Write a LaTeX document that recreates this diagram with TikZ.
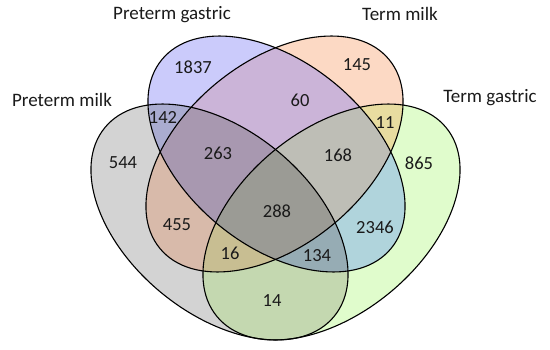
\documentclass[tikz,border=0pt]{standalone}
\usepackage{fontspec}
\setmainfont{Carlito}
\usepackage{xcolor}
\usepackage{tikz}
\usetikzlibrary{positioning}
% single sets
\definecolor{ptmilkgray}{HTML}{D3D3D3}
\definecolor{ptgastricblue}{HTML}{CBCBFB}
\definecolor{tmilkorange}{HTML}{FCD9C4}
\definecolor{tgastricgreen}{HTML}{E0FCCC}
% overlaps
\definecolor{pmpgcol}{HTML}{AAACD0}
\definecolor{pmtmcol}{HTML}{D8BAAA}
\definecolor{pmtgcol}{HTML}{C4D8B0}
\definecolor{pgtmcol}{HTML}{CBB4D8}
\definecolor{pgtgcol}{HTML}{B0D4DC}
\definecolor{tmtgcol}{HTML}{E8DCA0}
\definecolor{pmpgtmcol}{HTML}{A898B0}
\definecolor{pmpgtgcol}{HTML}{96ACB4}
\definecolor{pmtmtgcol}{HTML}{C8BE92}
\definecolor{pgtmtgcol}{HTML}{BEBEB6}
\definecolor{allcol}{HTML}{9B9B95}
\definecolor{ink}{HTML}{1A1A1A}
\newcommand{\ptmilkshape}{[rotate around={-39.5:(219.5,127)}] (219.5,127) ellipse [x radius=148.5, y radius=91.6]}
\newcommand{\ptgastricshape}{[rotate around={-39.5:(276.5,195)}] (276.5,195) ellipse [x radius=148.5, y radius=91.6]}
\newcommand{\tmilkshape}{[rotate around={39.5:(274.5,195)}] (274.5,195) ellipse [x radius=148.5, y radius=91.6]}
\newcommand{\tgastricshape}{[rotate around={39.5:(331.5,127)}] (331.5,127) ellipse [x radius=148.5, y radius=91.6]}
\tikzset{
  setoutline/.style={
    draw=black,
    line width=1.1pt
  },
  count/.style={
    font=\fontsize{18.5}{20}\selectfont,
    text=ink,
    inner sep=1pt
  },
  setname/.style={
    font=\fontsize{19}{21}\selectfont,
    text=ink,
    inner sep=1pt
  }
}

\begin{document}
\begin{tikzpicture}[x=1pt,y=1pt]
\useasboundingbox (0,0) rectangle (550,349);

% ---- Single sets ----
\fill[ptmilkgray] \ptmilkshape;
\fill[ptgastricblue] \ptgastricshape;
\fill[tmilkorange] \tmilkshape;
\fill[tgastricgreen] \tgastricshape;

% ---- Two-set overlaps ----
\begin{scope}
  \clip \ptmilkshape; \clip \ptgastricshape;
  \fill[pmpgcol] (0,0) rectangle (550,349);
\end{scope}
\begin{scope}
  \clip \ptmilkshape; \clip \tmilkshape;
  \fill[pmtmcol] (0,0) rectangle (550,349);
\end{scope}
\begin{scope}
  \clip \ptmilkshape; \clip \tgastricshape;
  \fill[pmtgcol] (0,0) rectangle (550,349);
\end{scope}
\begin{scope}
  \clip \ptgastricshape; \clip \tmilkshape;
  \fill[pgtmcol] (0,0) rectangle (550,349);
\end{scope}
\begin{scope}
  \clip \ptgastricshape; \clip \tgastricshape;
  \fill[pgtgcol] (0,0) rectangle (550,349);
\end{scope}
\begin{scope}
  \clip \tmilkshape; \clip \tgastricshape;
  \fill[tmtgcol] (0,0) rectangle (550,349);
\end{scope}

% ---- Three-set overlaps ----
\begin{scope}
  \clip \ptmilkshape; \clip \ptgastricshape; \clip \tmilkshape;
  \fill[pmpgtmcol] (0,0) rectangle (550,349);
\end{scope}
\begin{scope}
  \clip \ptmilkshape; \clip \ptgastricshape; \clip \tgastricshape;
  \fill[pmpgtgcol] (0,0) rectangle (550,349);
\end{scope}
\begin{scope}
  \clip \ptmilkshape; \clip \tmilkshape; \clip \tgastricshape;
  \fill[pmtmtgcol] (0,0) rectangle (550,349);
\end{scope}
\begin{scope}
  \clip \ptgastricshape; \clip \tmilkshape; \clip \tgastricshape;
  \fill[pgtmtgcol] (0,0) rectangle (550,349);
\end{scope}

% ---- All four ----
\begin{scope}
  \clip \ptmilkshape; \clip \ptgastricshape;
  \clip \tmilkshape; \clip \tgastricshape;
  \fill[allcol] (0,0) rectangle (550,349);
\end{scope}

% ---- Outlines ----
\draw[setoutline] \ptmilkshape;
\draw[setoutline] \ptgastricshape;
\draw[setoutline] \tmilkshape;
\draw[setoutline] \tgastricshape;

% ---- Set names ----
\node[setname] (ptgastricname) at (172,334) {Preterm gastric};
\node[setname] (ptmilkname) at (62,249) {Preterm milk};
\node[setname] (tmilkname) at (400,335) {Term milk};
\node[setname] (tgastricname) at (490,251) {Term gastric};

% ---- Region counts ----
\node[count] (onlyptgastric) at (193,282) {1837};
\node[count] (onlytmilk) at (357,284) {145};
\node[count] (onlyptmilk) at (123,186) {544};
\node[count] (onlytgastric) at (419,186) {865};
\node[count] (ptmilkptgastric) at (163,232) {142};
\node[count] (ptgastrictmilk) at (300,249) {60};
\node[count] (tmilktgastric) at (385,226) {11};
\node[count] (triplenotg) at (218,196) {263};
\node[count] (triplenopm) at (338,194) {168};
\node[count] (allfour) at (277,138) {288};
\node[count] (ptmilktmilk) at (177,124) {455};
\node[count] (ptgastrictgastric) at (375,122) {2346};
\node[count] (triplenopg) at (230,96) {16};
\node[count] (triplenotm) at (317,93) {134};
\node[count] (ptmilktgastric) at (272,48) {14};

\end{tikzpicture}
\end{document}
